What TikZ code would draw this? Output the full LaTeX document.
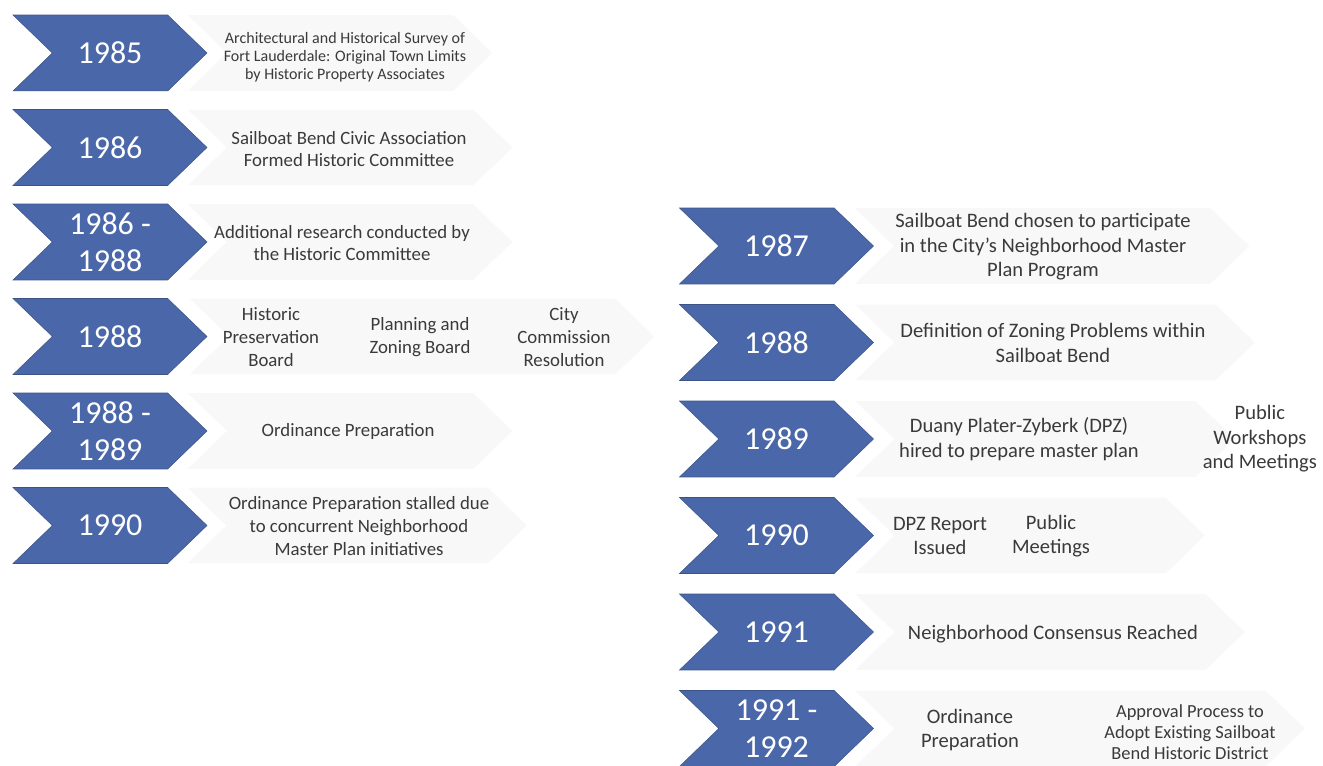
\documentclass[tikz,border=0pt]{standalone}
\usepackage{fontspec}
\setmainfont{Carlito}
\usetikzlibrary{shapes.symbols,positioning}
\definecolor{chev}{HTML}{4A68A9}
\definecolor{ghost}{HTML}{F8F8F8}
\definecolor{ink}{HTML}{3A3A3A}

\begin{document}
\begin{tikzpicture}[x=0.02cm, y=-0.02cm,
  yearbox/.style={signal, signal from=west, signal to=east, signal pointer angle=88,
    fill=chev, draw=chev!80!black, line width=0.3pt, text=white, inner sep=0pt,
    minimum width=3.88cm, minimum height=1.52cm, align=center,
    font=\fontsize{18.2}{21}\selectfont},
  ghostbox/.style={signal, signal from=west, signal to=east, signal pointer angle=88,
    fill=ghost, draw=none, inner sep=0pt, minimum height=1.52cm},
  descl/.style={text=ink, align=center, font=\fontsize{10.7}{13}\selectfont},
  descr/.style={text=ink, align=center, font=\fontsize{11.7}{14}\selectfont},
  tiny/.style={text=ink, align=center, font=\fontsize{9.1}{10.3}\selectfont}
]
  \useasboundingbox (0,0) rectangle (1323,766);

  % faint chevrons behind the text, left
  \node[ghostbox, minimum width=6.1cm] (g1) at (340,53) {};
  \node[ghostbox, minimum width=6.5cm] (g2) at (350,147.5) {};
  \node[ghostbox, minimum width=6.5cm] (g3) at (350,242) {};
  \node[ghostbox, minimum width=9.3cm] (g4) at (422,336.5) {};
  \node[ghostbox, minimum width=6.5cm] (g5) at (350,431) {};
  \node[ghostbox, minimum width=6.8cm] (g6) at (357,525.5) {};

  % faint chevrons behind the text, right
  \node[ghostbox, minimum width=7.9cm] (h1) at (1052,246) {};
  \node[ghostbox, minimum width=8.0cm] (h2) at (1055,342.5) {};
  \node[ghostbox, minimum width=7.6cm] (h3) at (1045,439) {};
  \node[ghostbox, minimum width=7.0cm] (h4) at (1030,535.5) {};
  \node[ghostbox, minimum width=7.8cm] (h5) at (1050,632) {};
  \node[ghostbox, minimum width=9.0cm] (h6) at (1080,728.5) {};

  % left column
  \node[yearbox] (y85) at (110,53) {1985};
  \node[yearbox] (y86) at (110,147.5) {1986};
  \node[yearbox] (y8688) at (110,242) {1986 -\\1988};
  \node[yearbox] (y88) at (110,336.5) {1988};
  \node[yearbox] (y8889) at (110,431) {1988 -\\1989};
  \node[yearbox] (y90) at (110,525.5) {1990};

  \node[tiny] (d85) at (345,57) {Architectural and Historical Survey of\\
    Fort Lauderdale: Original Town Limits\\by Historic Property Associates};
  \node[descl] (d86) at (349,149) {Sailboat Bend Civic Association\\Formed Historic Committee};
  \node[descl] (d8688) at (342,243) {Additional research conducted by\\the Historic Committee};
  \node[descl] (d88a) at (271,337) {Historic\\Preservation\\Board};
  \node[descl] (d88b) at (420,337) {Planning and\\Zoning Board};
  \node[descl] (d88c) at (564,337) {City\\Commission\\Resolution};
  \node[descl] (d8889) at (348,431) {Ordinance Preparation};
  \node[descl] (d90) at (359,526) {Ordinance Preparation stalled due\\
    to concurrent Neighborhood\\Master Plan initiatives};

  % right column
  \node[yearbox] (r87) at (776.5,246) {1987};
  \node[yearbox] (r88) at (776.5,342.5) {1988};
  \node[yearbox] (r89) at (776.5,439) {1989};
  \node[yearbox] (r90) at (776.5,535.5) {1990};
  \node[yearbox] (r91) at (776.5,632) {1991};
  \node[yearbox] (r9192) at (776.5,728.5) {1991 -\\1992};

  \node[descr] (e87) at (1043,247) {Sailboat Bend chosen to participate\\
    in the City's Neighborhood Master\\Plan Program};
  \node[descr] (e88) at (1053,343) {Definition of Zoning Problems within\\Sailboat Bend};
  \node[descr] (e89a) at (1019,439) {Duany Plater-Zyberk (DPZ)\\hired to prepare master plan};
  \node[descr, anchor=east] (e89b) at (1323,439) {Public\\Workshops\\and Meetings};
  \node[descr] (e90a) at (940,536) {DPZ Report\\Issued};
  \node[descr] (e90b) at (1051,536) {Public\\Meetings};
  \node[descr] (e91) at (1053,634) {Neighborhood Consensus Reached};
  \node[descr] (e92a) at (970,730) {Ordinance\\Preparation};
  \node[tiny, font=\fontsize{10.5}{12}\selectfont] (e92b) at (1190,732) {Approval Process to\\
    Adopt Existing Sailboat\\Bend Historic District};
\end{tikzpicture}
\end{document}
